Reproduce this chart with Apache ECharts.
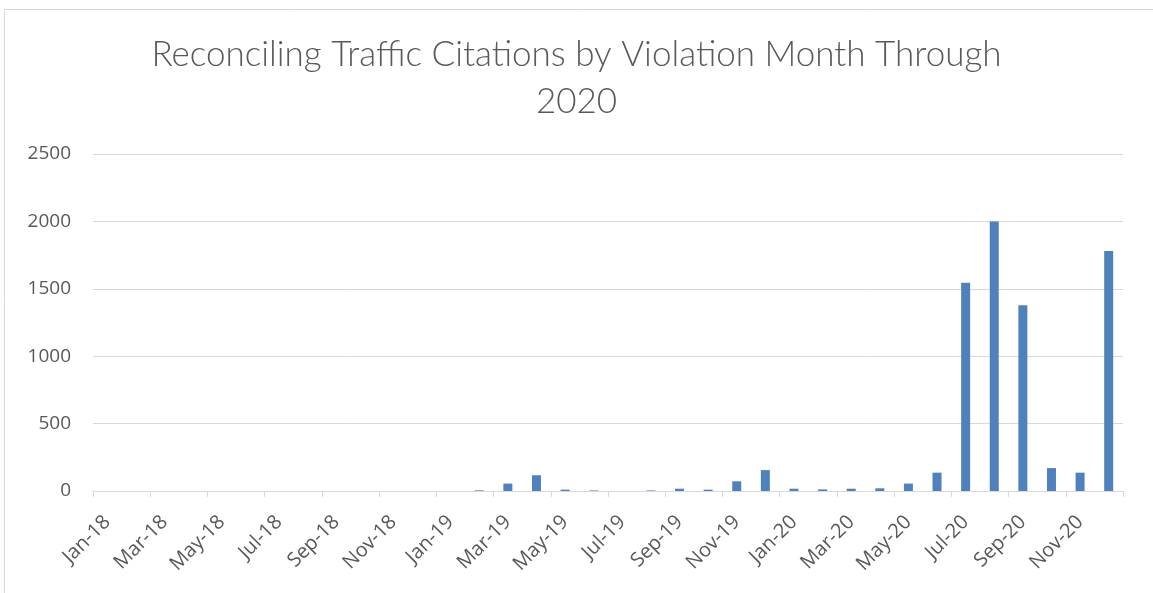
<!DOCTYPE html>
<html>
<head>
<meta charset="utf-8">
<script src="https://cdn.jsdelivr.net/npm/echarts@6.0.0/dist/echarts.min.js"></script>
<style>
  html, body { margin: 0; padding: 0; background: #fff; }
  #chart { width: 1153px; height: 593px; }
</style>
</head>
<body>
<div id="chart"></div>
<script>
// violation months, Jan-18 .. Dec-20
let months = [
  'Jan-18', 'Feb-18', 'Mar-18', 'Apr-18', 'May-18', 'Jun-18',
  'Jul-18', 'Aug-18', 'Sep-18', 'Oct-18', 'Nov-18', 'Dec-18',
  'Jan-19', 'Feb-19', 'Mar-19', 'Apr-19', 'May-19', 'Jun-19',
  'Jul-19', 'Aug-19', 'Sep-19', 'Oct-19', 'Nov-19', 'Dec-19',
  'Jan-20', 'Feb-20', 'Mar-20', 'Apr-20', 'May-20', 'Jun-20',
  'Jul-20', 'Aug-20', 'Sep-20', 'Oct-20', 'Nov-20', 'Dec-20',
]

// reconciling citations per month
let citations2018 = [0, 0, 0, 0, 0, 0, 0, 0, 0, 0, 0, 0]
let citations2019 = [0, 5, 55, 117, 10, 4, 0, 4, 17, 10, 72, 155]
let citations2020 = [17, 12, 17, 20, 55, 136, 1545, 2000, 1378, 170, 136, 1780]

let yTicks = [0, 500, 1000, 1500, 2000, 2500]

let citations = citations2018.concat(citations2019, citations2020)

let chart = echarts.init(document.getElementById('chart'))
let textColor = '#595959'
let lineColor = '#d9d9d9'

let option = {
  animation: false,
  backgroundColor: '#fff',
  title: {
    text: 'Reconciling Traffic Citations by Violation Month Through\n2020',
    left: 'center',
    top: 26,
    textStyle: {
      fontFamily: 'Lato',
      fontWeight: 300,
      fontSize: 35,
      lineHeight: 47,
      color: textColor,
    },
  },
  graphic: [
    {
      // chart area frame
      type: 'rect',
      shape: { x: 4.5, y: 9.5, width: 1200, height: 700 },
      style: { fill: 'none', stroke: lineColor, lineWidth: 1 },
      silent: true,
    },
  ],
  grid: {
    left: 93,
    right: 30,
    top: 154,
    bottom: 102,
    outerBoundsMode: 'none',
  },
  xAxis: {
    type: 'category',
    data: months,
    axisLine: {
      show: true,
      lineStyle: { color: lineColor, width: 1 },
    },
    axisTick: {
      show: true,
      interval: 1,
      length: 6,
      lineStyle: { color: lineColor },
    },
    axisLabel: {
      interval: 1,
      rotate: 45,
      margin: 28,
      fontFamily: 'Open Sans',
      fontSize: 20,
      color: textColor,
    },
  },
  yAxis: {
    type: 'value',
    min: yTicks[0],
    max: yTicks[yTicks.length - 1],
    interval: yTicks[1] - yTicks[0],
    axisLine: { show: false },
    axisTick: { show: false },
    splitLine: {
      lineStyle: { color: lineColor, width: 1 },
    },
    axisLabel: {
      margin: 22,
      fontFamily: 'Open Sans',
      fontSize: 19,
      color: textColor,
      formatter: (v) => String(v),
    },
  },
  series: [
    {
      name: 'Citations',
      type: 'bar',
      barWidth: 9,
      color: '#4F81BD',
      data: citations,
    },
  ],
}

chart.setOption(option)
</script>
</body>
</html>
